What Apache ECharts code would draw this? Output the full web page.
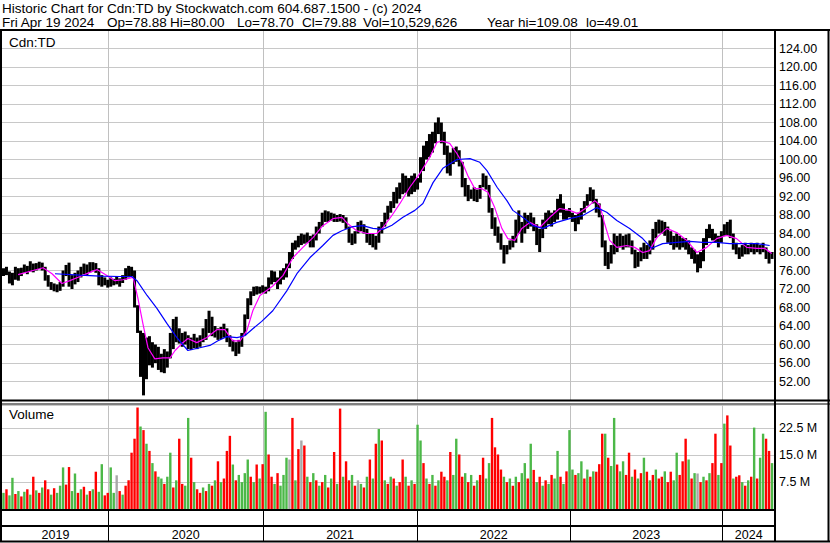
<!DOCTYPE html>
<html><head><meta charset="utf-8">
<script src="https://cdn.jsdelivr.net/npm/echarts/dist/echarts.min.js"></script>
<style>html,body{margin:0;padding:0;background:#fff}#c{width:830px;height:543px}</style>
</head><body><div id="c"></div>
<script>
// ---- weekly price range (Apr 2019 .. Apr 19 2024) ----
const weekHigh = [
76.5,76.8,75.8,75.5,76.8,76.5,76.6,77.3,77.0,78.0,
77.5,77.6,77.9,77.7,76.8,75.0,73.5,73.2,73.0,73.5,
76.0,77.2,77.7,75.0,75.5,76.0,76.8,77.5,77.3,77.8,
77.8,77.6,76.5,75.0,74.5,74.0,74.5,74.2,74.8,74.3,
75.0,76.5,77.0,76.8,76.0,68.5,63.0,62.5,61.5,61.8,
60.5,60.0,59.5,58.0,59.0,58.5,62.5,65.5,66.0,63.5,
62.5,62.8,62.0,61.5,62.3,61.5,62.0,63.5,65.5,67.3,
66.0,64.0,63.5,63.8,64.5,63.5,62.0,61.0,60.5,61.0,
62.5,66.5,70.0,71.5,72.5,72.6,72.5,72.8,72.5,74.5,
76.0,75.8,74.5,76.0,76.5,77.5,80.0,82.0,82.5,83.5,
84.0,83.8,84.2,83.5,83.8,85.5,86.5,88.5,89.0,88.8,
88.5,88.3,88.0,88.2,88.0,87.5,85.5,84.0,84.5,86.5,
86.8,86.0,85.0,84.0,84.0,83.5,85.5,86.5,88.5,90.0,
91.0,93.0,94.0,95.0,97.0,96.5,96.0,96.5,97.0,96.0,
100.5,103.0,104.0,105.5,106.0,108.0,109.1,108.0,106.0,103.0,
101.5,102.5,102.8,102.0,99.5,96.0,94.5,93.5,94.0,93.5,
94.5,97.0,96.5,94.5,89.5,87.5,85.5,84.0,81.5,81.5,
82.5,83.5,87.0,89.0,86.5,88.5,88.0,88.5,87.5,86.0,
85.0,87.0,88.5,89.0,88.5,89.0,91.5,92.5,90.5,89.0,
89.5,88.5,88.0,88.5,89.5,91.0,92.5,94.0,93.5,91.5,
90.5,88.0,82.5,80.0,81.5,84.0,83.5,84.0,83.5,83.8,
84.0,82.5,80.5,80.0,81.0,82.0,81.5,82.5,85.0,86.5,
87.0,86.8,86.5,85.5,84.5,83.5,84.0,83.5,83.0,83.0,
82.5,81.0,80.5,79.5,80.0,83.0,85.0,86.0,85.0,84.0,
83.5,84.5,86.0,86.5,87.0,84.0,82.0,81.0,81.5,82.0,
81.5,82.0,81.8,82.0,81.5,82.0,81.0,80.0,80.0];
const weekLow = [
74.8,75.0,73.2,72.8,74.0,73.8,74.8,75.5,75.2,75.8,
75.6,76.0,76.3,76.0,73.8,72.5,71.8,71.5,71.3,71.6,
72.5,74.8,72.5,72.0,73.0,73.5,74.5,75.2,75.0,75.6,
76.0,75.5,72.8,72.5,72.8,72.3,72.5,72.8,73.0,72.5,
73.3,74.0,74.5,74.8,68.0,62.5,53.0,49.0,52.5,55.5,
55.0,56.0,54.5,54.0,53.8,55.0,57.0,59.0,60.5,60.2,
59.5,60.0,59.0,58.8,59.2,59.0,59.5,60.5,61.0,62.5,
61.8,61.5,61.0,61.2,61.5,60.5,59.5,58.5,57.5,58.0,
59.5,62.0,65.5,68.5,70.5,70.8,71.0,71.2,71.0,71.5,
73.0,73.5,72.0,73.0,74.0,74.5,76.5,78.5,80.5,81.0,
81.5,81.8,82.0,81.0,81.0,82.5,84.0,85.5,86.5,86.5,
86.8,86.5,86.5,86.6,86.3,85.0,82.0,81.5,81.8,84.0,
84.5,84.0,82.0,81.5,81.0,80.5,82.0,84.0,85.5,87.0,
88.5,89.5,90.5,91.5,92.5,92.8,92.0,92.5,93.0,93.5,
95.0,97.5,100.0,100.5,101.5,103.5,105.5,103.5,101.0,97.0,
96.5,99.0,99.5,98.5,94.0,92.0,91.0,91.5,91.0,90.8,
91.5,94.0,93.5,88.5,85.0,83.5,82.0,80.5,77.5,79.5,
80.5,81.0,82.0,84.0,82.0,84.0,85.0,85.5,84.5,81.5,
80.0,83.0,85.0,86.0,85.5,86.5,87.0,88.5,87.0,87.0,
87.5,86.5,84.5,86.0,87.0,88.5,90.0,91.0,90.5,88.5,
87.5,81.0,77.0,76.3,77.5,79.5,80.0,81.0,80.5,81.0,
81.0,79.5,76.5,76.8,78.0,78.5,78.5,79.5,80.5,83.0,
84.0,84.0,83.5,82.0,81.5,80.5,81.0,80.5,81.0,80.5,
79.5,78.5,77.5,75.6,76.5,78.0,81.5,83.0,82.5,82.0,
81.0,82.0,83.5,83.5,83.0,80.5,79.5,78.5,79.0,79.5,
79.5,80.0,79.5,80.0,79.5,80.0,78.5,77.5,78.5];

// ---- moving averages (week position, value) ----
const maShortWeek = [5.4,10.4,13.8,16.8,20.1,22.8,26.2,29.5,31.9,35.2,37.9,40.6,44.0,45.6,47.3,49.0,51.3,54.0,56.4,58.1,60.4,62.4,65.4,68.8,72.1,74.8,77.5,79.9,82.2,84.2,86.6,91.0,94.3,97.7,101.0,104.4,107.7,111.1,114.1,116.1,119.1,122.5,125.8,127.9,130.9,133.6,136.9,140.3,143.6,146.0,147.7,150.3,152.7,154.7,156.4,158.7,161.1,163.1,165.4,167.8,169.8,172.1,174.5,177.2,180.5,183.9,187.2,190.6,193.3,196.3,199.0,200.7,202.3,204.0,206.4,209.7,212.4,215.1,217.4,219.8,223.2,226.5,229.9,233.2,236.6,239.9,243.3,246.6,250.0,253.4,256.0,258.4];
const maShortVal = [75.1,76.0,76.6,75.3,73.2,73.8,74.7,75.6,76.2,74.9,73.8,74.0,74.5,70.1,64.5,59.3,56.9,57.1,57.1,58.7,60.2,61.3,60.4,61.5,63.2,63.2,60.8,60.8,63.0,67.3,70.6,72.7,74.9,78.8,81.0,83.1,85.7,87.2,87.5,86.1,84.6,84.0,84.0,85.3,87.9,90.5,94.0,97.0,100.5,103.7,104.0,103.5,101.3,99.1,96.5,93.7,93.7,92.9,89.6,85.1,82.9,82.5,85.1,86.4,85.3,87.5,89.4,89.0,88.3,89.6,91.1,90.1,86.1,82.5,81.0,81.4,81.0,79.9,80.3,83.1,85.1,84.2,82.5,79.9,81.0,82.9,83.6,82.9,81.0,80.8,80.8,79.7];
const maLongWeek = [17.8,26.2,32.9,39.6,43.6,45.3,48.7,52.0,55.4,58.7,62.4,66.4,69.8,72.5,75.5,78.9,81.5,84.2,87.2,90.9,95.6,99.0,103.4,107.7,111.1,114.1,117.8,121.1,124.5,127.9,130.9,134.6,138.6,141.3,144.7,148.0,152.7,157.1,160.4,162.8,166.2,169.5,171.5,175.5,178.2,181.5,186.2,190.6,195.0,199.7,203.0,206.4,210.7,215.1,218.1,221.8,226.5,230.9,235.2,239.9,244.3,248.7,253.4,257.7];
const maLongVal = [75.3,75.0,74.8,74.7,74.7,73.8,70.6,67.8,64.5,61.5,58.7,59.3,59.8,60.8,61.7,61.5,61.9,63.4,65.0,67.3,71.6,75.3,78.8,81.4,83.6,84.6,85.5,85.7,85.1,84.9,85.8,87.5,89.0,90.5,95.0,98.1,100.0,100.2,99.4,97.6,94.0,91.1,89.0,87.2,85.7,85.1,86.4,87.2,87.9,89.6,88.6,86.8,85.1,82.9,80.8,81.8,82.1,82.3,82.1,82.1,81.8,81.8,81.8,81.4];

// ---- weekly volume (millions) and direction (1 up, -1 down, 0 unchanged) ----
const volume = [
4.5,5.5,3.8,8.7,4.2,5.0,3.5,4.8,5.5,4.0,
9.0,5.2,4.5,6.0,8.0,5.5,4.0,5.8,4.5,6.5,
11.6,6.8,11.7,5.0,9.9,4.5,5.5,6.2,4.0,5.0,
5.5,10.4,4.8,12.5,3.8,4.5,11.6,4.5,9.4,5.0,
4.0,6.5,8.0,15.7,19.6,28.3,23.0,22.0,18.2,16.2,
12.8,10.5,9.0,8.5,7.0,9.0,15.7,6.0,8.0,19.6,
7.0,6.5,25.4,14.3,7.5,5.5,4.5,6.0,5.0,7.0,
6.5,8.0,13.3,7.5,8.5,16.2,20.4,12.4,8.0,9.5,
7.5,10.0,13.8,9.0,7.5,12.4,8.5,12.5,27.1,15.2,
9.0,7.0,10.0,6.5,9.5,14.3,13.8,25.4,8.0,16.7,
19.1,17.7,9.0,7.5,10.0,8.0,6.5,7.5,9.5,6.0,
8.5,15.9,7.0,28.0,9.0,13.3,8.0,9.5,6.5,8.0,
7.0,6.0,9.0,13.8,8.5,18.2,22.3,19.1,8.0,7.0,
9.0,8.5,6.5,7.5,13.8,9.0,6.5,8.0,7.0,23.5,
19.1,12.8,8.5,7.0,9.5,6.5,8.0,10.4,9.0,8.0,
15.9,9.5,19.6,15.2,9.0,10.0,7.5,9.5,6.5,8.0,
9.5,14.3,8.5,12.8,25.4,17.2,15.2,11.0,9.0,7.5,
8.5,6.5,9.0,7.5,10.0,12.8,8.5,18.2,10.9,7.5,
9.0,6.5,8.0,7.0,9.5,8.5,16.2,9.0,7.0,10.5,
22.0,11.0,9.5,10.0,13.3,8.5,11.0,9.0,10.5,10.4,
12.5,21.0,21.0,14.3,12.0,25.4,12.4,10.5,13.3,9.5,
15.7,9.0,11.0,8.5,10.0,14.3,10.4,8.0,9.5,11.0,
8.5,9.0,10.5,7.5,10.4,8.0,15.7,9.5,13.3,19.6,
13.8,8.5,10.0,9.9,7.5,9.0,8.0,10.0,12.8,21.0,
9.5,12.8,23.8,26.1,17.7,8.5,9.0,9.4,7.5,6.5,
8.0,9.0,22.7,8.5,14.3,21.0,19.6,16.2,12.8];
const volDir = [
1,-1,1,1,-1,1,-1,1,-1,1,
-1,1,-1,1,-1,-1,1,-1,1,1,
1,-1,-1,1,1,-1,1,-1,1,-1,
1,-1,1,1,-1,-1,1,1,0,-1,
1,-1,-1,-1,-1,-1,1,-1,1,-1,
1,-1,1,1,-1,1,1,-1,1,-1,
-1,1,1,-1,1,-1,-1,1,-1,1,
-1,1,-1,1,-1,-1,-1,1,-1,1,
1,1,1,-1,1,-1,1,-1,1,-1,
-1,1,-1,1,1,1,0,-1,1,-1,
0,-1,1,-1,1,-1,1,-1,1,-1,
1,-1,1,-1,1,-1,-1,1,-1,0,
1,-1,1,-1,1,-1,1,-1,1,-1,
1,-1,1,-1,-1,1,-1,1,-1,1,
1,-1,1,-1,1,-1,1,-1,-1,1,
-1,1,1,-1,-1,1,-1,1,-1,1,
-1,-1,1,1,-1,-1,-1,-1,1,-1,
1,-1,1,-1,1,1,-1,1,-1,1,
-1,1,-1,1,-1,1,1,-1,1,-1,
1,1,-1,1,1,-1,1,-1,1,-1,
-1,-1,1,-1,1,1,-1,1,1,-1,
-1,1,-1,1,-1,1,-1,1,-1,1,
-1,-1,1,-1,-1,1,1,-1,-1,-1,
1,-1,1,0,-1,1,-1,1,-1,-1,
1,-1,1,-1,-1,1,-1,-1,1,-1,
1,-1,1,-1,1,1,-1,-1,1];

// ---- years along the time axis (week positions of year starts) ----
const years = ['2019','2020','2021','2022','2023','2024'];
const yearStart = [0, 35.75, 87.6, 139.2, 190.7, 241.7, 259.5];

// ---- header text ----
const headerTitle = 'Historic Chart for Cdn:TD by Stockwatch.com 604.687.1500 - (c) 2024';
const headerFields = ['Fri Apr 19 2024','Op=78.88','Hi=80.00','Lo=78.70','Cl=79.88','Vol=10,529,626','Year hi=109.08','lo=49.01'];
const symbolLabel = 'Cdn:TD';
const volumeLabel = 'Volume';

// layout (not data)
const headerFieldX = [2,107,170,237,302,363,487,586];
const FONT = '"Liberation Sans", Arial, sans-serif';
const XMAX = 259.5;

const chart = echarts.init(document.getElementById('c'), null, {renderer:'svg'});

function txt(x, y, s, size) {
  return {type:'text', x:x, y:y, z:100, silent:true,
    style:{text:s, fontSize:size||13.5, fontFamily:FONT, fill:'#000', verticalAlign:'top'}};
}
function ln(x1,y1,x2,y2,w) {
  return {type:'line', z:100, silent:true, shape:{x1:x1,y1:y1,x2:x2,y2:y2}, style:{stroke:'#000', lineWidth:w}};
}

const graphics = [
  txt(2, 1, headerTitle),
  ...headerFields.map((s,i)=>txt(headerFieldX[i], 15, s)),
  txt(9, 35, symbolLabel),
  txt(9, 407, volumeLabel),
  ln(0,30,830,30,2),
  ln(1,30,1,542,2),
  ln(775,30,775,542,2),
  ln(828.5,30,828.5,542,2),
  ln(0,400.5,830,400.5,2),
  ln(0,404,830,404,1),
  ln(0,510,775,510,2),
  ln(0,526,775,526,2),
  ln(0,541.5,830,541.5,2)
];

const yearLineData = yearStart.slice(1,-1).map(v=>[v, 0]);
function vGrid(color) {
  return function(params, api){
    const x = Math.round(api.coord([api.value(0), api.value(1)])[0]) + 0.5;
    const cs = params.coordSys;
    return {type:'line', shape:{x1:x,y1:cs.y,x2:x,y2:cs.y+cs.height}, style:{stroke:color, lineWidth:1}};
  };
}

const option = {
  animation:false,
  backgroundColor:'#fff',
  graphic:{elements:graphics},
  grid:[
    {left:2, width:773, top:30, height:370},
    {left:2, width:773, top:405, height:104},
    {left:2, width:773, top:510, height:31}
  ],
  xAxis:[
    {gridIndex:0, type:'value', min:0, max:XMAX, show:false},
    {gridIndex:1, type:'value', min:0, max:XMAX, show:false},
    {gridIndex:2, type:'value', min:0, max:XMAX, show:false}
  ],
  yAxis:[
    {gridIndex:0, type:'value', position:'right', min:48, max:128, interval:4,
     axisLine:{show:false}, axisTick:{show:false},
     splitLine:{lineStyle:{color:'#c8c8c8', width:1}},
     axisLabel:{margin:4, color:'#000', fontSize:12.5, fontFamily:FONT,
       formatter:v=> (v>48 && v<128) ? v.toFixed(2) : ''}},
    {gridIndex:1, type:'value', position:'right', min:0, max:29.0, interval:7.5,
     axisLine:{show:false}, axisTick:{show:false},
     splitLine:{lineStyle:{color:'#c8c8c8', width:1}},
     axisLabel:{margin:4, color:'#000', fontSize:12.5, fontFamily:FONT,
       formatter:v=> (v>0 && v<29 && Math.abs(v/7.5-Math.round(v/7.5))<1e-6) ? v.toFixed(1)+' M' : ''}},
    {gridIndex:2, type:'value', min:0, max:1, show:false}
  ],
  series:[
    {type:'custom', name:'yearGridPrice', xAxisIndex:0, yAxisIndex:0, z:1, silent:true,
     renderItem:vGrid('#c0c0c0'), data:yearLineData.map(d=>[d[0],60])},
    {type:'custom', name:'price', xAxisIndex:0, yAxisIndex:0, z:2, silent:true,
     encode:{x:0, y:[1,2]},
     renderItem:function(params, api){
       const x = api.value(0), hi = api.value(1), lo = api.value(2);
       const a = api.coord([x, hi]), b = api.coord([x, lo]);
       return {type:'rect', shape:{x:a[0]-1.5, y:a[1], width:3, height:Math.max(1.5, b[1]-a[1])}, style:{fill:'#000'}};
     },
     data: weekHigh.map((h,i)=>[i+0.5, h, weekLow[i]])},
    {type:'line', name:'MA short', xAxisIndex:0, yAxisIndex:0, z:3, silent:true, showSymbol:false,
     lineStyle:{color:'#ff00ff', width:1.2}, data: maShortWeek.map((w,i)=>[w, maShortVal[i]])},
    {type:'line', name:'MA long', xAxisIndex:0, yAxisIndex:0, z:3, silent:true, showSymbol:false,
     lineStyle:{color:'#0000ff', width:1.2}, data: maLongWeek.map((w,i)=>[w, maLongVal[i]])},
    {type:'custom', name:'yearGridVol', xAxisIndex:1, yAxisIndex:1, z:1, silent:true,
     renderItem:vGrid('#c0c0c0'), data:yearLineData.map(d=>[d[0],5])},
    {type:'custom', name:'volume', xAxisIndex:1, yAxisIndex:1, z:2, silent:true,
     encode:{x:0, y:1},
     renderItem:function(params, api){
       const x = api.value(0), v = api.value(1), d = api.value(2);
       const a = api.coord([x, v]), b = api.coord([x, 0]);
       const c = d > 0 ? '#4cb848' : (d < 0 ? '#ff0000' : '#a8a8a8');
       return {type:'rect', shape:{x:a[0]-1.2, y:a[1], width:2.4, height:b[1]-a[1]}, style:{fill:c}};
     },
     data: volume.map((v,i)=>[i+0.5, v, volDir[i]])},
    {type:'custom', name:'years', xAxisIndex:2, yAxisIndex:2, z:5, silent:true,
     renderItem:function(params, api){
       const s = api.value(0), e = api.value(1), idx = params.dataIndex;
       const x0 = Math.round(api.coord([s, 0])[0]) + 0.5, x1 = api.coord([e, 0])[0];
       const cs = params.coordSys;
       const children = [{type:'text', style:{text:years[idx], x:(x0+x1)/2, y:cs.y+25,
         align:'center', verticalAlign:'middle', fontSize:12.5, fontFamily:FONT, fill:'#000'}}];
       if (s > 0) children.push({type:'line', shape:{x1:x0,y1:cs.y,x2:x0,y2:cs.y+cs.height}, style:{stroke:'#000', lineWidth:1}});
       return {type:'group', children:children};
     },
     data: years.map((y,i)=>[yearStart[i], yearStart[i+1]])}
  ]
};
chart.setOption(option);
</script>
</body></html>
